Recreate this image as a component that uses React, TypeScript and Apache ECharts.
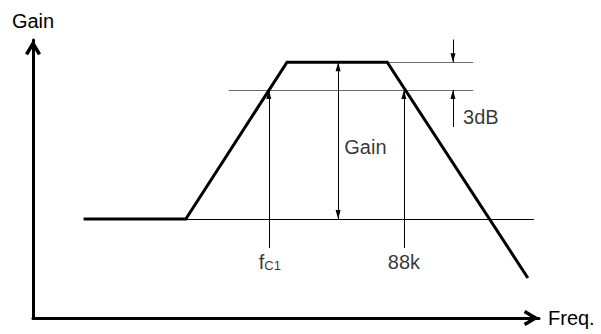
import React, { useEffect, useRef } from "react";
import * as echarts from "echarts";

// Axis titles
const xAxisName = "Freq.";
const yAxisName = "Gain";

// Schematic frequency response (abstract units: x 0..100, y 0..100)
const curveX = [10, 30.2, 50.2, 70, 97.8];
const curveY = [35.6, 35.6, 92, 92, 14.4];

// Horizontal reference lines
const refY = [92, 82, 35.6];
const refFromX = [70, 38.7, 30.2];
const refToX = [87, 87, 99];

// Vertical dimension arrows
const arrowX = [46.6, 73.3, 60.3, 83, 83];
const arrowFromY = [25.2, 25.2, 35.6, 105.4, 68.7];
const arrowToY = [82, 82, 92, 92, 82];
const arrowDouble = [false, false, true, false, false];

// Annotation labels
const labelText = ["{f|f}{s|C1}", "{n|88k}", "{n|Gain}", "{n|3dB}"];
const labelX = [46.8, 73.3, 65.7, 88.5];
const labelY = [20.3, 20.3, 61.6, 72.3];

const FONT = "'Liberation Sans', Arial, Helvetica, sans-serif";
const CHEVRON = "path://M8,0 L16,13.5 L13,15.3 L8,6.9 L3,15.3 L0,13.5 Z";
const HEAD = "path://M2.5,10 L5,20 L0,20 Z M2.5,0 L2.5,0";

export default function App() {
  const ref = useRef<HTMLDivElement>(null);
  useEffect(() => {
    if (!ref.current) return;
    const chart = echarts.init(ref.current, null, { renderer: "svg" });
    const axisLine = {
      show: true,
      symbol: ["none", CHEVRON],
      symbolSize: [16, 15.3],
      symbolOffset: [0, -7.65],
      lineStyle: { color: "#000", width: 3 },
    };
    chart.setOption({
      animation: false,
      backgroundColor: "#fff",
      grid: { left: 33, right: 62, top: 40, bottom: 16, containLabel: false },
      xAxis: {
        type: "value",
        min: 0,
        max: 100,
        name: xAxisName,
        nameLocation: "end",
        nameGap: 9,
        nameTextStyle: { fontFamily: FONT, fontSize: 20, color: "#000" },
        axisLine,
        axisTick: { show: false },
        axisLabel: { show: false },
        splitLine: { show: false },
      },
      yAxis: {
        type: "value",
        min: 0,
        max: 100,
        name: yAxisName,
        nameLocation: "end",
        nameGap: 9,
        nameTextStyle: { fontFamily: FONT, fontSize: 20, color: "#000" },
        axisLine,
        axisTick: { show: false },
        axisLabel: { show: false },
        splitLine: { show: false },
      },
      series: [
        {
          type: "lines",
          coordinateSystem: "cartesian2d",
          silent: true,
          z: 1,
          symbol: ["none", "none"],
          lineStyle: { opacity: 1, width: 1 },
          data: refY.map((y, i) => ({
            coords: [
              [refFromX[i], y],
              [refToX[i], y],
            ],
            lineStyle: { color: i === 2 ? "#000" : "#6a6a6a", width: 1, opacity: 1 },
          })),
        },
        {
          type: "lines",
          coordinateSystem: "cartesian2d",
          silent: true,
          z: 2,
          symbolSize: [
            [5, 18],
            [5, 18],
          ],
          lineStyle: { color: "#000", width: 1, opacity: 1 },
          data: arrowX.map((x, i) => ({
            coords: [
              [x, arrowFromY[i]],
              [x, arrowToY[i]],
            ],
            symbol: [arrowDouble[i] ? HEAD : "none", HEAD],
          })),
        },
        {
          type: "line",
          silent: true,
          z: 3,
          symbol: "none",
          lineStyle: { color: "#000", width: 3, join: "miter" },
          data: curveX.map((x, i) => [x, curveY[i]]),
        },
        {
          type: "scatter",
          silent: true,
          z: 4,
          symbolSize: 1,
          itemStyle: { color: "rgba(0,0,0,0)" },
          label: {
            show: true,
            position: "inside",
            color: "#000",
            fontFamily: FONT,
            rich: {
              n: { fontFamily: FONT, fontSize: 20, color: "#000" },
              f: { fontFamily: FONT, fontSize: 20, lineHeight: 20, color: "#000", verticalAlign: "bottom" },
              s: { fontFamily: FONT, fontSize: 13, lineHeight: 15, color: "#000", verticalAlign: "bottom" },
            },
          },
          data: labelX.map((x, i) => ({
            value: [x, labelY[i]],
            label: { formatter: labelText[i] },
          })),
        },
      ],
    });
    return () => chart.dispose();
  }, []);
  return (
    <div
      ref={ref}
      style={{ position: "absolute", left: 0, top: 0, width: 601, height: 334 }}
    />
  );
}
